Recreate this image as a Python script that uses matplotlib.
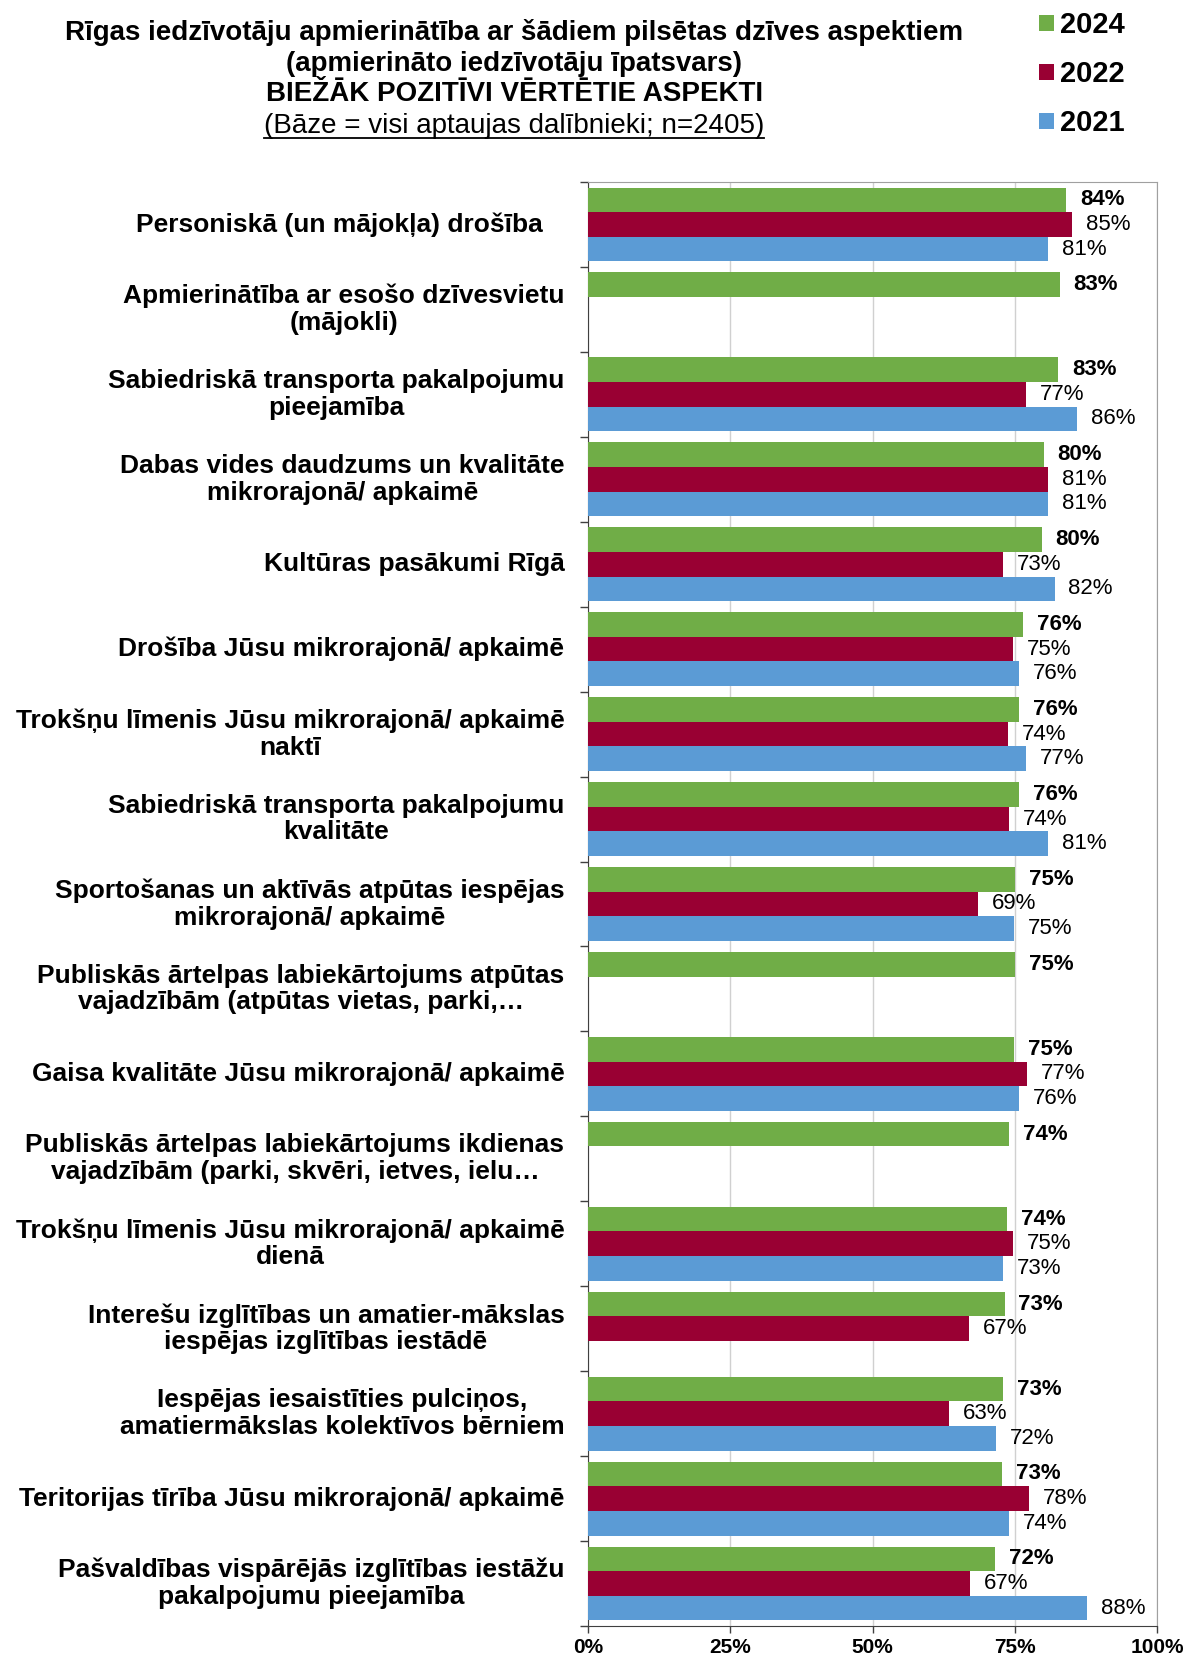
import matplotlib
matplotlib.use('Agg')
import matplotlib.pyplot as plt
import numpy as np
from matplotlib.lines import Line2D

plt.rcParams['font.family'] = ['Liberation Sans', 'DejaVu Sans']

categories = [
    "Personiskā (un mājokļa) drošība   ",
    "Apmierinātība ar esošo dzīvesvietu\n(mājokli)",
    "Sabiedriskā transporta pakalpojumu\npieejamība",
    "Dabas vides daudzums un kvalitāte\nmikrorajonā/ apkaimē",
    "Kultūras pasākumi Rīgā",
    "Drošība Jūsu mikrorajonā/ apkaimē",
    "Trokšņu līmenis Jūsu mikrorajonā/ apkaimē\nnaktī",
    "Sabiedriskā transporta pakalpojumu\nkvalitāte",
    "Sportošanas un aktīvās atpūtas iespējas\nmikrorajonā/ apkaimē",
    "Publiskās ārtelpas labiekārtojums atpūtas\nvajadzībām (atpūtas vietas, parki,…",
    "Gaisa kvalitāte Jūsu mikrorajonā/ apkaimē",
    "Publiskās ārtelpas labiekārtojums ikdienas\nvajadzībām (parki, skvēri, ietves, ielu…",
    "Trokšņu līmenis Jūsu mikrorajonā/ apkaimē\ndienā",
    "Interešu izglītības un amatier-mākslas\niespējas izglītības iestādē",
    "Iespējas iesaistīties pulciņos,\namatiermākslas kolektīvos bērniem",
    "Teritorijas tīrība Jūsu mikrorajonā/ apkaimē",
    "Pašvaldības vispārējās izglītības iestāžu\npakalpojumu pieejamība",
]
nan = np.nan
v2024 = [84.0, 82.9, 82.6, 80.1, 79.7, 76.4, 75.8, 75.8, 75.1, 75.1, 74.9, 74.0, 73.6, 73.2, 72.9, 72.7, 71.6]
v2022 = [85.1, nan, 77.0, 80.9, 72.9, 74.7, 73.8, 74.0, 68.6, nan, 77.1, nan, 74.7, 66.9, 63.4, 77.5, 67.1]
v2021 = [80.9, nan, 85.9, 80.9, 82.0, 75.8, 77.0, 80.9, 74.9, nan, 75.8, nan, 72.9, nan, 71.7, 74.0, 87.7]
series = [("2024", v2024, "#70AD47"), ("2022", v2022, "#990033"), ("2021", v2021, "#5B9BD5")]
xticks = [0, 25, 50, 75, 100]

fig = plt.figure(figsize=(11.85, 16.59), dpi=100)
ax = fig.add_axes([0.4962, 0.0199, 0.4802, 0.8704])

y = np.arange(len(categories))
h = 0.29
handles = []
for k, (name, vals, col) in enumerate(series):
    vals = np.array(vals, dtype=float)
    pos = y + (k - 1) * h
    b = ax.barh(pos, vals, height=h, color=col, label=name, zorder=3)
    handles.append(b)
    for p, v in zip(pos, vals):
        if np.isnan(v):
            continue
        ax.annotate(f"{v:.0f}%", xy=(v, p), xytext=(10, 0), textcoords='offset points',
                    va='center', ha='left', fontsize=16,
                    fontweight='bold' if k == 0 else 'normal', color='black')

ax.set_xlim(0, 100)
ax.set_ylim(len(categories) - 0.5, -0.5)
ax.set_xticks(xticks)
ax.set_xticklabels([f"{t}%" for t in xticks], fontweight='bold', fontsize=15)
ax.set_yticks(np.arange(len(categories) + 1) - 0.5)
ax.set_yticklabels([])
ax.tick_params(axis='y', length=6, width=1, color='#404040', direction='out')
ax.tick_params(axis='x', length=5, width=1, color='#404040', direction='out', pad=4)
ax.grid(axis='x', color='#D0D0D0', lw=1, zorder=0)
ax.set_axisbelow(True)
for s in ['top', 'right']:
    ax.spines[s].set_color('#A0A0A0')
for s in ['left', 'bottom']:
    ax.spines[s].set_color('#404040')

for i, c in enumerate(categories):
    ax.annotate(c, xy=(0, i), xycoords=('axes fraction', 'data'), xytext=(-17, 0),
                textcoords='offset points', ha='right', va='center', multialignment='center',
                fontsize=19, fontweight='bold', linespacing=1.15)

cx = 0.434
fig.text(cx, 0.9802, "Rīgas iedzīvotāju apmierinātība ar šādiem pilsētas dzīves aspektiem",
         ha='center', va='center', fontsize=20, fontweight='bold')
fig.text(cx, 0.9617, "(apmierināto iedzīvotāju īpatsvars)",
         ha='center', va='center', fontsize=20, fontweight='bold')
fig.text(cx, 0.9433, "BIEŽĀK POZITĪVI VĒRTĒTIE ASPEKTI",
         ha='center', va='center', fontsize=20, fontweight='bold')
base = fig.text(cx, 0.9238, "(Bāze = visi aptaujas dalībnieki; n=2405)",
                ha='center', va='center', fontsize=20)

fig.canvas.draw()
bb = base.get_window_extent().transformed(fig.transFigure.inverted())
fig.add_artist(Line2D([bb.x0, bb.x1], [bb.y0 + 0.001, bb.y0 + 0.001], color='black', lw=1.3))

fig.legend(handles=handles, labels=[s[0] for s in series], loc='upper left',
           bbox_to_anchor=(0.855, 1.009), frameon=False, handlelength=0.5, handleheight=0.5,
           handletextpad=0.2, labelspacing=0.72, prop={'weight': 'bold', 'size': 21})

fig.savefig("out.png", dpi=100)
